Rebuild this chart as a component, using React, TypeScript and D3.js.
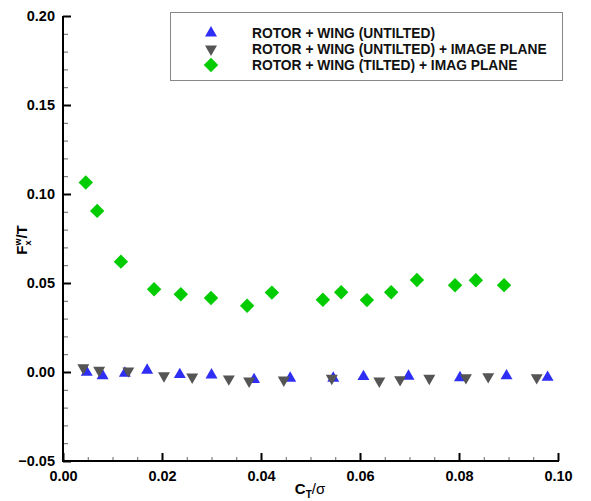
import React, { useEffect, useRef } from 'react';
import * as d3 from 'd3';

// values (C_T/sigma, Fx^w/T)
const untiltedX = [0.0048, 0.0080, 0.0125, 0.0170, 0.0236, 0.0300, 0.0386, 0.0459, 0.0546, 0.0607, 0.0698, 0.0802, 0.0896, 0.0979];
const untiltedY = [-0.0002, -0.0021, -0.0007, 0.0010, -0.0015, -0.0017, -0.0043, -0.0035, -0.0035, -0.0026, -0.0024, -0.0032, -0.0022, -0.0030];

const imageX = [0.0041, 0.0073, 0.0132, 0.0204, 0.0261, 0.0335, 0.0376, 0.0446, 0.0543, 0.0639, 0.0681, 0.0740, 0.0814, 0.0859, 0.0957];
const imageY = [0.0024, 0.0010, 0.0006, -0.0021, -0.0028, -0.0039, -0.0051, -0.0045, -0.0035, -0.0051, -0.0043, -0.0035, -0.0032, -0.0026, -0.0032];

const tiltedX = [0.0046, 0.0069, 0.0117, 0.0184, 0.0238, 0.0299, 0.0372, 0.0422, 0.0525, 0.0562, 0.0614, 0.0663, 0.0715, 0.0792, 0.0834, 0.0891];
const tiltedY = [0.1065, 0.0905, 0.0620, 0.0465, 0.0437, 0.0416, 0.0372, 0.0446, 0.0406, 0.0448, 0.0404, 0.0448, 0.0517, 0.0487, 0.0515, 0.0488];

const legendLabels = [
  'ROTOR + WING (UNTILTED)',
  'ROTOR + WING (UNTILTED) + IMAGE PLANE',
  'ROTOR + WING (TILTED) + IMAG PLANE',
];

const xTicks = [0, 0.02, 0.04, 0.06, 0.08, 0.1];
const yTicks = [-0.05, 0, 0.05, 0.1, 0.15, 0.2];

const FONT = 'Liberation Sans, Arial, Helvetica, sans-serif';

const App = () => {
  const ref = useRef<SVGSVGElement>(null);

  useEffect(() => {
    d3.select(ref.current).selectAll('*').remove();
    const svg = d3.select(ref.current);
    const width = 591;
    const height = 501;

    const x = d3.scaleLinear().domain([0, 0.1]).range([63, 558]);
    const y = d3.scaleLinear().domain([-0.05, 0.2]).range([461, 16]);

    svg.append('rect').attr('width', width).attr('height', height).attr('fill', 'white');

    // x axis: major + minor ticks pointing inward
    const gx = svg.append('g').attr('transform', `translate(0,${y(-0.05)})`);
    gx.call(d3.axisBottom(x).tickValues(d3.range(0, 0.1001, 0.005)).tickSize(-4).tickFormat(() => ''))
      .call(g => g.select('.domain').remove())
      .selectAll('line').attr('stroke', '#666').attr('stroke-width', 1);
    const gxMaj = svg.append('g').attr('transform', `translate(0,${y(-0.05)})`);
    gxMaj.call(d3.axisBottom(x).tickValues(xTicks).tickSize(-8).tickPadding(6).tickFormat(d3.format('.2f')))
      .call(g => g.select('.domain').remove())
      .selectAll('line').attr('stroke', 'black').attr('stroke-width', 2);
    gxMaj.selectAll('text')
      .attr('fill', 'black')
      .attr('font-family', FONT)
      .attr('font-weight', 'bold')
      .attr('font-size', '14.5px')
      .attr('dy', '0.95em');

    // y axis
    const gy = svg.append('g').attr('transform', `translate(${x(0)},0)`);
    gy.call(d3.axisLeft(y).tickValues(d3.range(-0.05, 0.2001, 0.01)).tickSize(-5).tickFormat(() => ''))
      .call(g => g.select('.domain').remove())
      .selectAll('line').attr('stroke', '#666').attr('stroke-width', 1);
    const gyMaj = svg.append('g').attr('transform', `translate(${x(0)},0)`);
    gyMaj.call(d3.axisLeft(y).tickValues(yTicks).tickSize(-8).tickPadding(8).tickFormat(d3.format('.2f')))
      .call(g => g.select('.domain').remove())
      .selectAll('line').attr('stroke', 'black').attr('stroke-width', 2);
    gyMaj.selectAll('text')
      .attr('fill', 'black')
      .attr('font-family', FONT)
      .attr('font-weight', 'bold')
      .attr('font-size', '14.5px');

    // axis lines
    svg.append('line')
      .attr('x1', x(0)).attr('x2', x(0)).attr('y1', y(0.2)).attr('y2', y(-0.05) + 1)
      .attr('stroke', 'black').attr('stroke-width', 2);
    svg.append('line')
      .attr('x1', x(0) - 1).attr('x2', x(0.1) + 1).attr('y1', y(-0.05)).attr('y2', y(-0.05))
      .attr('stroke', 'black').attr('stroke-width', 2);

    // axis titles
    const xt = svg.append('text')
      .attr('x', 310).attr('y', 494)
      .attr('text-anchor', 'middle')
      .attr('font-family', FONT).attr('font-weight', 'bold').attr('font-size', '15px');
    xt.append('tspan').text('C');
    xt.append('tspan').attr('font-size', '10px').attr('dy', 4).text('T');
    xt.append('tspan').attr('font-weight', 'normal').attr('dy', -4).text('/σ');

    const yt = svg.append('text')
      .attr('transform', `translate(27,${240}) rotate(-90)`)
      .attr('text-anchor', 'middle')
      .attr('font-family', FONT).attr('font-weight', 'bold').attr('font-size', '15px');
    yt.append('tspan').text('F');
    yt.append('tspan').attr('font-size', '9px').attr('dy', -6).text('w');
    yt.append('tspan').attr('font-size', '9px').attr('dx', -7).attr('dy', 10).text('x');
    yt.append('tspan').attr('dx', 2).attr('dy', -4).text('/T');

    const tri = d3.symbol().type(d3.symbolTriangle).size(62)();
    const dia = d3.symbol().type(d3.symbolSquare).size(104)();

    const series = [
      { xs: untiltedX, ys: untiltedY, path: tri, rot: 0, color: '#2e2ef5' },
      { xs: imageX, ys: imageY, path: tri, rot: 180, color: '#555555' },
      { xs: tiltedX, ys: tiltedY, path: dia, rot: 45, color: '#00cc00' },
    ];

    series.forEach(s => {
      svg.append('g')
        .selectAll('path')
        .data(s.xs.map((v, i) => [v, s.ys[i]]))
        .enter().append('path')
        .attr('d', s.path)
        .attr('transform', d => `translate(${x(d[0])},${y(d[1])}) rotate(${s.rot})`)
        .attr('fill', s.color);
    });

    // legend
    const lg = svg.append('g');
    lg.append('rect')
      .attr('x', 170.5).attr('y', 12.5).attr('width', 392).attr('height', 68)
      .attr('fill', 'white').attr('stroke', '#888').attr('stroke-width', 1);
    series.forEach((s, i) => {
      const yy = 33 + i * 16;
      lg.append('path')
        .attr('d', s.path)
        .attr('transform', `translate(211,${yy}) rotate(${s.rot})`)
        .attr('fill', s.color);
      lg.append('text')
        .attr('x', 252).attr('y', yy + 5)
        .attr('font-family', FONT).attr('font-weight', 'bold').attr('font-size', '13.8px')
        .attr('fill', '#111')
        .text(legendLabels[i]);
    });
  }, []);

  return (
    <svg ref={ref} width="591" height="501" style={{ position: 'absolute', left: 0, top: 0 }}></svg>
  );
};

export default App;
